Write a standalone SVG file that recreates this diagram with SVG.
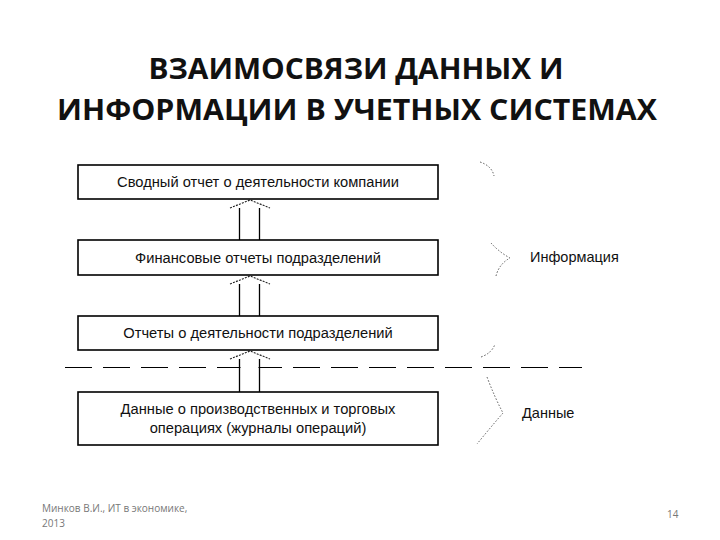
<svg xmlns="http://www.w3.org/2000/svg" width="720" height="540" viewBox="0 0 720 540">
<style>
.box{fill:#fff;stroke:#000;stroke-width:1.6}
.bt{font-family:"Liberation Sans",Arial,sans-serif;font-size:14.7px;fill:#111;text-anchor:middle}
.title{font-family:"Open Sans","Liberation Sans",sans-serif;font-weight:bold;font-size:28px;fill:#111;text-anchor:middle}
.foot{font-family:"Open Sans","Liberation Sans",sans-serif;font-size:10px;fill:#777}
.shaft{stroke:#000;stroke-width:1.3;fill:none}
.head{stroke:#222;stroke-width:1.1;stroke-dasharray:2 1.2;fill:none}
.brace{stroke:#555;stroke-width:1;stroke-dasharray:1.5 1.8;fill:none}
.side{font-family:"Liberation Sans",Arial,sans-serif;font-size:14.5px;fill:#111}
</style>
<rect width="720" height="540" fill="#fff"/>
<g id="title">
<text class="title" x="356" y="79" textLength="415" lengthAdjust="spacingAndGlyphs">ВЗАИМОСВЯЗИ ДАННЫХ И</text>
<text class="title" x="357" y="120" textLength="600" lengthAdjust="spacingAndGlyphs">ИНФОРМАЦИИ В УЧЕТНЫХ СИСТЕМАХ</text>
</g>
<g id="separator">
<line x1="65" y1="367.5" x2="582" y2="367.5" stroke="#000" stroke-width="1.2" stroke-dasharray="27 11"/>
<rect x="240.5" y="364" width="18" height="7" fill="#fff"/>
</g>
<g id="connectors">
<path class="shaft" d="M239.5,208 V240 M259.5,208 V240"/>
<path class="head" d="M230,208 L250,200 L270,208"/>
<path class="shaft" d="M239.5,284 V316 M259.5,284 V316"/>
<path class="head" d="M230,284 L250,276 L270,284"/>
<path class="shaft" d="M239.5,359 V392 M259.5,359 V392"/>
<path class="head" d="M230,359 L250,351 L270,359"/>
</g>
<g id="box1">
<rect class="box" x="78" y="165" width="360" height="34"/>
<text class="bt" x="258" y="187">Сводный отчет о деятельности компании</text>
</g>
<g id="box2">
<rect class="box" x="78" y="240" width="360" height="35"/>
<text class="bt" x="258" y="263">Финансовые отчеты подразделений</text>
</g>
<g id="box3">
<rect class="box" x="78" y="316" width="360" height="34"/>
<text class="bt" x="258" y="338">Отчеты о деятельности подразделений</text>
</g>
<g id="box4">
<rect class="box" x="78" y="392" width="360" height="53"/>
<text class="bt" x="258" y="414">Данные о производственных и торговых</text>
<text class="bt" x="258" y="433">операциях (журналы операций)</text>
</g>
<g id="brace-info">
<path class="brace" d="M480,162 Q492,166 494,176"/>
<path class="brace" d="M491,243 Q499,252 510,258 Q499,264 496,276"/>
<path class="brace" d="M481,357 Q492,353 495,344"/>
<text class="side" x="530" y="262">Информация</text>
</g>
<g id="brace-data">
<path class="brace" d="M487,377 Q495,398 503,413 Q490,428 477,444"/>
<text class="side" x="522" y="418">Данные</text>
</g>
<g id="footer">
<text class="foot" x="42" y="512">Минков В.И., ИТ в экономике,</text>
<text class="foot" x="42" y="527">2013</text>
<text class="foot" x="667" y="518">14</text>
</g>
</svg>
